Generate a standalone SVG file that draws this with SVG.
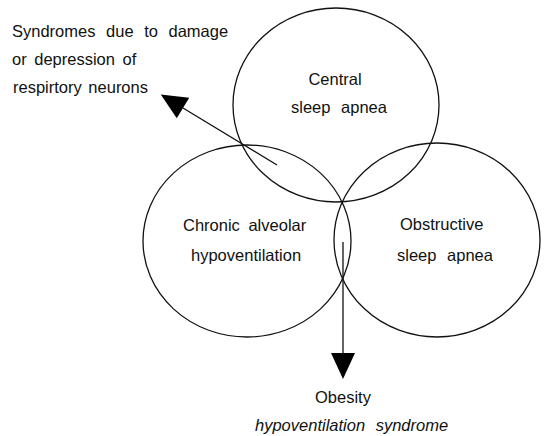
<svg xmlns="http://www.w3.org/2000/svg" width="544" height="436" viewBox="0 0 544 436">
<style>
.c{fill:none;stroke:#111;stroke-width:1.3}
.l{fill:none;stroke:#111;stroke-width:1.3}
text{font-family:"Liberation Sans",Arial,sans-serif;font-size:16.5px;fill:#111}
.it{font-style:italic}
</style>
<defs>
<marker id="ah" markerUnits="userSpaceOnUse" markerWidth="27" markerHeight="24" refX="0" refY="12" orient="auto" overflow="visible">
<path d="M0,0 L26,12 L0,24 Z" fill="#000"/>
</marker>
</defs>
<rect width="544" height="436" fill="#fff"/>
<g id="central">
<ellipse class="c" cx="336" cy="105" rx="103" ry="97"/>
<text x="335" y="85" text-anchor="middle">Central</text>
<text x="291" y="113" word-spacing="6">sleep apnea</text>
</g>
<g id="chronic">
<ellipse class="c" cx="247" cy="241" rx="104" ry="96"/>
<text x="183" y="231" word-spacing="4">Chronic alveolar</text>
<text x="191" y="261">hypoventilation</text>
</g>
<g id="obstructive">
<ellipse class="c" cx="437" cy="240" rx="103" ry="97"/>
<text x="400" y="230">Obstructive</text>
<text x="397" y="261" word-spacing="6">sleep apnea</text>
</g>
<g id="syndromes">
<text x="12" y="37" word-spacing="6">Syndromes due to damage</text>
<text x="12" y="65" word-spacing="3">or depression of</text>
<text x="13" y="93" word-spacing="2">respirtory neurons</text>
</g>
<g id="obesity">
<text x="315" y="403">Obesity</text>
<text x="255" y="431" class="it" word-spacing="6">hypoventilation syndrome</text>
</g>
<g id="connectors">
<line class="l" x1="277" y1="165" x2="183" y2="108" marker-end="url(#ah)"/>
<line class="l" x1="343" y1="242" x2="343" y2="353" marker-end="url(#ah)"/>
</g>
</svg>
